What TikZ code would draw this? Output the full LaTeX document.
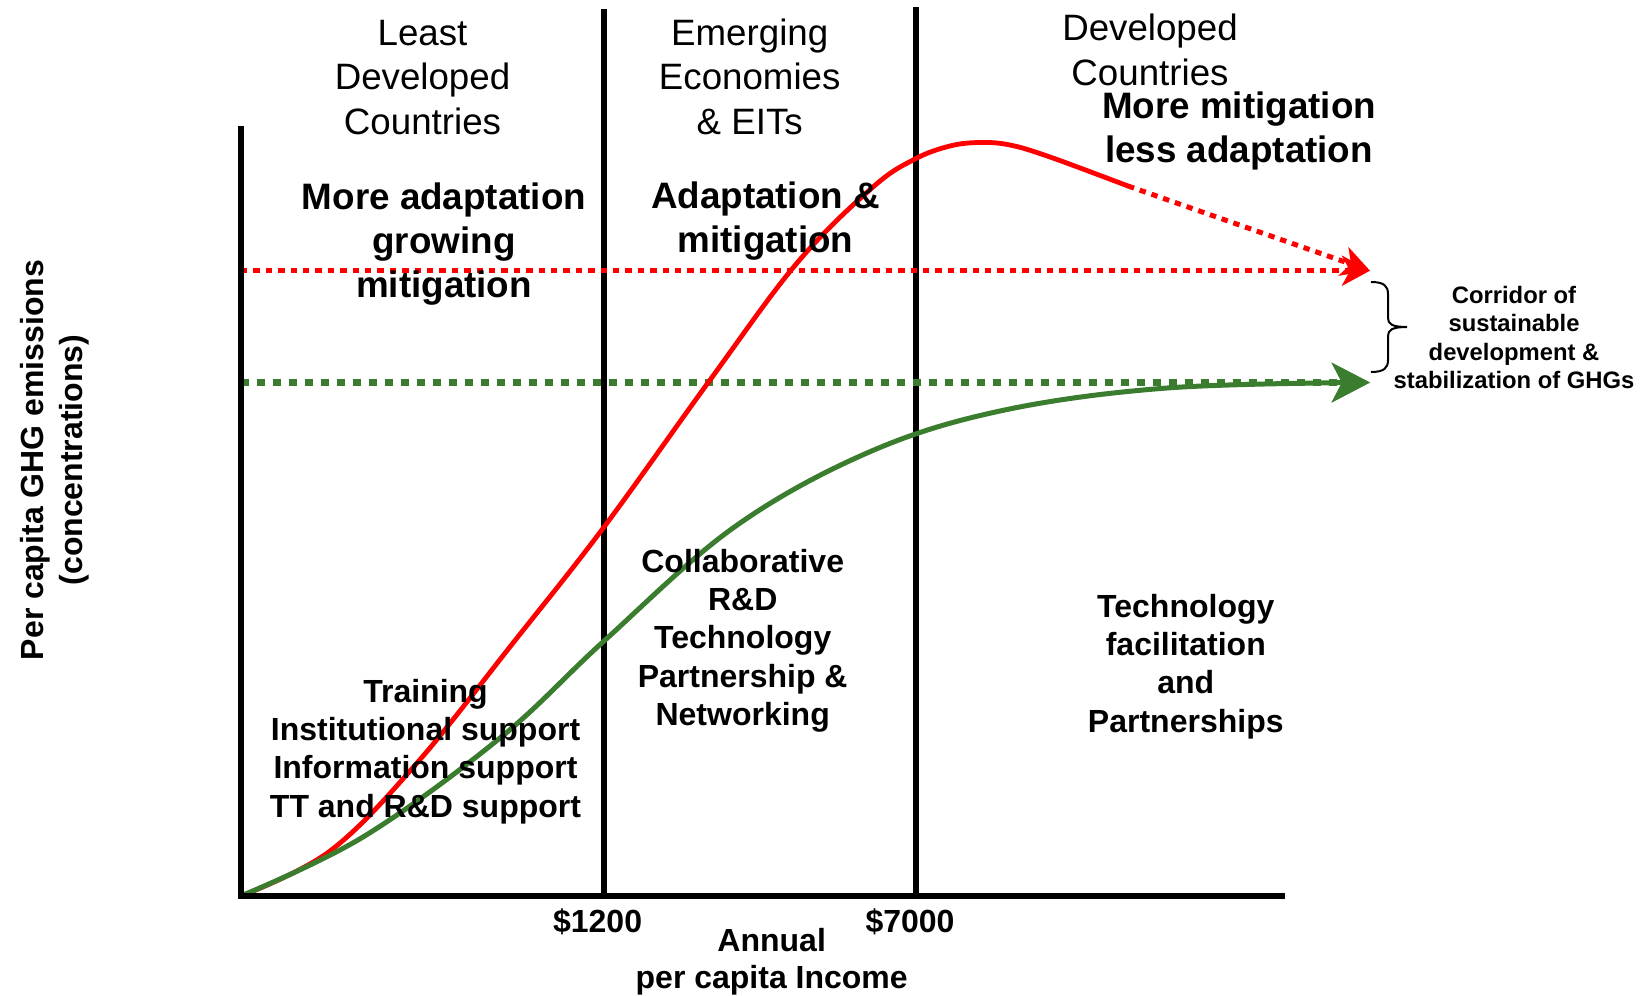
\documentclass[tikz,border=0pt]{standalone}
\usepackage{fontspec}
\setmainfont{Liberation Sans}
\usetikzlibrary{arrows.meta}
\definecolor{curvered}{RGB}{255,0,0}
\definecolor{curvegreen}{RGB}{58,125,46}
% invisible rule fixing the height of a block's first line
\newcommand{\lnht}{\rule{0pt}{0.76em}}

\begin{document}
\begin{tikzpicture}[x=0.5pt,y=-0.5pt,
  axisline/.style={line width=2.6pt},
  divider/.style={line width=2.6pt},
  redcurve/.style={curvered,line width=2.4pt,line cap=round},
  greencurve/.style={curvegreen,line width=2.5pt,line cap=round},
  reddots/.style={curvered,line width=2.5pt,dash pattern=on 3.2pt off 3pt},
  greendots/.style={curvegreen,line width=3.5pt,dash pattern=on 4.2pt off 3.8pt},
  redhead/.style={-{Stealth[length=14pt,width=15pt,inset=4pt]}},
  greenhead/.style={-{Stealth[length=19pt,width=19.5pt,inset=5pt]}},
  bracepath/.style={line width=1pt},
  hdr/.style={anchor=north,align=center,inner sep=0pt,font=\fontsize{18.35pt}{22.25pt}\selectfont},
  lbl/.style={anchor=north,align=center,inner sep=0pt,font=\bfseries\fontsize{18.4pt}{22pt}\selectfont},
  blk/.style={anchor=north,align=center,inner sep=0pt,font=\bfseries\fontsize{16pt}{19.15pt}\selectfont},
  note/.style={anchor=north,align=center,inner sep=0pt,font=\bfseries\fontsize{11.9pt}{14.25pt}\selectfont},
  tick/.style={anchor=base,inner sep=0pt,font=\bfseries\fontsize{16pt}{19pt}\selectfont},
  axlabel/.style={anchor=north,align=center,inner sep=0pt,font=\bfseries\fontsize{16pt}{18.25pt}\selectfont}
]
\useasboundingbox (0,0) rectangle (1644,996);

% key points of the chart
\coordinate (O) at (241,896);
\coordinate (ytop) at (241,126);
\coordinate (xend) at (1285,896);
\coordinate (d1top) at (604,9);
\coordinate (d1bot) at (604,896);
\coordinate (d2top) at (916,7);
\coordinate (d2bot) at (916,896);
\coordinate (redlvl) at (241,270.7);
\coordinate (greenlvl) at (241,382.5);
\coordinate (redtip) at (1370,270.7);
\coordinate (greentip) at (1370,382.5);
\coordinate (redbend) at (1128,186);

% region dividers
\draw[divider] (d1top) -- (d1bot);
\draw[divider] (d2top) -- (d2bot);

% stabilization levels
\draw[reddots,redhead] (redlvl) -- (redtip);
\draw[greendots,greenhead] (greenlvl) -- (greentip);

% emission paths
\draw[redcurve] plot[smooth,tension=0.6] coordinates {
  (O) (330,851) (417,763) (513,643) (604,527) (710,380) (797,263)
  (873,187) (915,159) (950,146) (980,142.5) (1010,145) (1050,157) (redbend)};
\draw[reddots,redhead] (redbend) -- (redtip);
\draw[greencurve,greenhead] plot[smooth,tension=0.6] coordinates {
  (O) (363,837) (500,738) (604,641) (733,528) (867,453)
  (1000,411) (1167,388) (greentip)};

% axes
\draw[axisline] (ytop) -- (O) -- (xend);

% corridor brace
\draw[bracepath] (1371,282) .. controls (1384,282) and (1388,286) .. (1388,294)
  -- (1388,318) .. controls (1388,324) and (1392,327) .. (1407,327)
  .. controls (1392,327) and (1388,330) .. (1388,336)
  -- (1388,360) .. controls (1388,368) and (1384,372) .. (1371,372);

% region headings
\node[hdr] (least) at (422.5,17.1) {\lnht Least\\Developed\\Countries};
\node[hdr] (emerging) at (749.7,17.1) {\lnht Emerging\\Economies\\\& EITs};
\node[hdr] (developed) at (1150,12.4) {\lnht Developed\\Countries};

% policy emphasis
\node[lbl] (moreadapt) at (444,181) {\lnht More adaptation\\growing\\mitigation};
\node[lbl] (adaptmitig) at (765.5,180.5) {\lnht Adaptation \&\\mitigation};
\node[lbl] (moremitig) at (1239,90) {\lnht More mitigation\\less adaptation};

% support measures
\node[blk] (training) at (425.5,677.4) {\lnht Training\\Institutional support\\Information support\\TT and R\&D support};
\node[blk] (collab) at (742.7,547.4) {\lnht Collaborative\\R\&D\\Technology\\Partnership \&\\Networking};
\node[blk] (techfac) at (1185.8,592.4) {\lnht Technology\\facilitation\\and\\Partnerships};

% corridor note
\node[note] (corridor) at (1514,284.6) {\lnht Corridor of\\sustainable\\development \&\\stabilization of GHGs};

% axis ticks and titles
\node[tick] (t1200) at (597.6,932.5) {\$1200};
\node[tick] (t7000) at (910,932.5) {\$7000};
\node[axlabel] (xtitle) at (771.7,927.2) {\lnht Annual\\per capita Income};
\node[axlabel,rotate=90,font=\bfseries\fontsize{16pt}{19.65pt}\selectfont] (ytitle) at (18.4,460)
  {\lnht Per capita GHG emissions\\(concentrations)};
\end{tikzpicture}
\end{document}
